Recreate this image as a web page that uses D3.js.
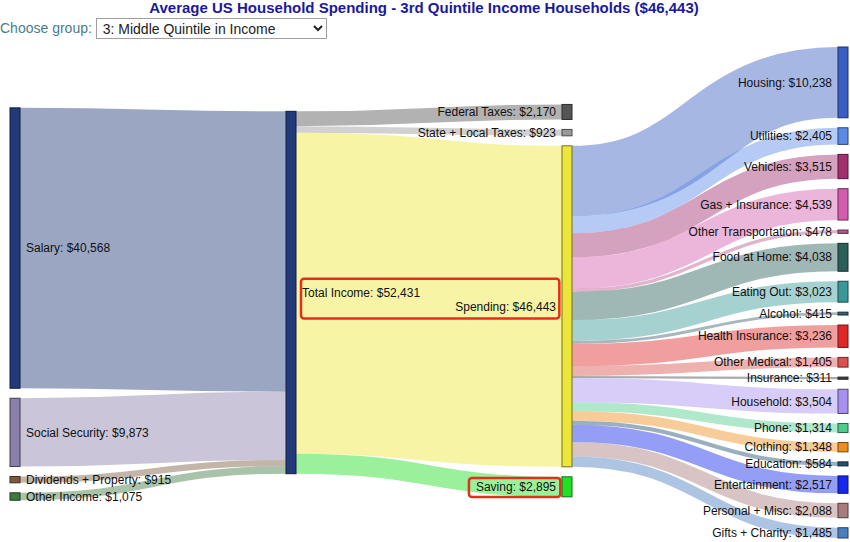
<!DOCTYPE html>
<html><head><meta charset="utf-8">
<script src="https://cdn.jsdelivr.net/npm/d3@7"></script>
<style>
body{margin:0;background:#fff;font-family:"Liberation Sans",Arial,sans-serif;}
#wrap{position:relative;width:850px;height:542px;overflow:hidden;}
#title{position:absolute;left:0;top:-1px;width:848px;text-align:center;font-weight:bold;font-size:15px;line-height:17px;color:#1a1a99;}
#ctl{position:absolute;left:0;top:18px;font-size:14px;line-height:20px;color:#4a7c8c;}
#ctl select{font-family:"Liberation Sans",Arial,sans-serif;font-size:14px;width:231px;height:21px;margin-left:0;border:1px solid #a0a0a0;background:#fff;color:#222;padding:0 2px;vertical-align:top;}
svg{position:absolute;left:0;top:0;}
text{font-family:"Liberation Sans",Arial,sans-serif;font-size:12px;fill:#111;}
</style></head>
<body>
<div id="wrap">
<svg id="chart" width="850" height="542"></svg>
<div id="title">Average US Household Spending - 3rd Quintile Income Households ($46,443)</div>
<div id="ctl">Choose group: <select><option>3: Middle Quintile in Income</option></select></div>
</div>
<script>
// ---- data ----
const incomeNames = ["Salary", "Social Security", "Dividends + Property", "Other Income"];
const incomeValues = [40568, 9873, 915, 1075];
const totalName = "Total Income";
const taxNames = ["Federal Taxes", "State + Local Taxes"];
const taxValues = [2170, 923];
const spendingName = "Spending";
const savingName = "Saving";
const savingValue = 2895;
const spendingNames = ["Housing", "Utilities", "Vehicles", "Gas + Insurance", "Other Transportation",
  "Food at Home", "Eating Out", "Alcohol", "Health Insurance", "Other Medical", "Insurance",
  "Household", "Phone", "Clothing", "Education", "Entertainment", "Personal + Misc", "Gifts + Charity"];
const spendingValues = [10238, 2405, 3515, 4539, 478, 4038, 3023, 415, 3236, 1405, 311,
  3504, 1314, 1348, 584, 2517, 2088, 1485];

// ---- styles ----
const incomeColors = ["#22397a", "#8a7fab", "#7a5a3e", "#3f7a40"];
const totalColor = "#22397a";
const taxColors = ["#555555", "#9a9a9a"];
const spendingColor = "#ede63a";
const savingColor = "#22e022";
const spendingColors = ["#3a5fc4", "#5a8ae6", "#a0306e", "#d45cae", "#b8588e",
  "#2a5f5a", "#3a9898", "#3c5f6e", "#e02828", "#dc5050", "#444444",
  "#a98ff0", "#4fcc8c", "#ee8e1c", "#22506e", "#1428ee", "#a87c7c", "#4a7fc0"];

const fmt = d3.format("$,.0f");
const W = 838, H = 491, marginLeft = 10, marginTop = 47, nodeWidth = 10, pad = 10, iterations = 6;

// ---- graph ----
const nodes = [], links = [];
incomeNames.forEach((n, i) => nodes.push({name: n, col: 0, color: incomeColors[i]}));
const total = {name: totalName, col: 1, color: totalColor}; nodes.push(total);
const taxNodes = taxNames.map((n, i) => ({name: n, col: 2, color: taxColors[i]}));
taxNodes.forEach(n => nodes.push(n));
const spend = {name: spendingName, col: 2, color: spendingColor}; nodes.push(spend);
const save = {name: savingName, col: 2, color: savingColor}; nodes.push(save);
const catNodes = spendingNames.map((n, i) => ({name: n, col: 3, color: spendingColors[i]}));
catNodes.forEach(n => nodes.push(n));

incomeValues.forEach((v, i) => links.push({source: nodes[i], target: total, value: v, color: incomeColors[i]}));
taxValues.forEach((v, i) => links.push({source: total, target: taxNodes[i], value: v, color: taxColors[i]}));
links.push({source: total, target: spend, value: d3.sum(spendingValues), color: spendingColor});
links.push({source: total, target: save, value: savingValue, color: savingColor});
spendingValues.forEach((v, i) => links.push({source: spend, target: catNodes[i], value: v, color: spendingColors[i]}));

// ---- sankey layout (d3-sankey style, left aligned, input node order kept) ----
nodes.forEach((n, i) => { n.index = i; n.sourceLinks = []; n.targetLinks = []; });
links.forEach((l, i) => { l.index = i; l.source.sourceLinks.push(l); l.target.targetLinks.push(l); });
nodes.forEach(n => n.value = Math.max(d3.sum(n.sourceLinks, l => l.value), d3.sum(n.targetLinks, l => l.value)));
const cols = d3.groups(nodes, n => n.col).sort((a, b) => a[0] - b[0]).map(d => d[1]);
const xs = d3.scalePoint().domain(d3.range(cols.length)).range([0, W - nodeWidth]);
nodes.forEach(n => { n.x0 = xs(n.col); n.x1 = n.x0 + nodeWidth; });
const py = Math.min(pad, H / (d3.max(cols, c => c.length) - 1));
const ky = d3.min(cols, c => (H - (c.length - 1) * py) / d3.sum(c, n => n.value));
const hs = d3.scaleLinear().domain([0, 1]).range([0, ky]);
const byBreadth = (a, b) => a.y0 - b.y0;
const byTarget = (a, b) => byBreadth(a.target, b.target) || a.index - b.index;
const bySource = (a, b) => byBreadth(a.source, b.source) || a.index - b.index;

for (const c of cols) {
  let y = 0;
  for (const n of c) {
    n.y0 = y; n.y1 = y + hs(n.value); y = n.y1 + py;
    for (const l of n.sourceLinks) l.width = hs(l.value);
  }
  y = (H - y + py) / (c.length + 1);
  c.forEach((n, i) => { n.y0 += y * (i + 1); n.y1 += y * (i + 1); });
  for (const n of c) { n.sourceLinks.sort(byTarget); n.targetLinks.sort(bySource); }
}
function reorderNodeLinks(n) {
  for (const {source} of n.targetLinks) source.sourceLinks.sort(byTarget);
  for (const {target} of n.sourceLinks) target.targetLinks.sort(bySource);
}
function targetTop(source, target) {
  let y = source.y0 - (source.sourceLinks.length - 1) * py / 2;
  for (const {target: n, width} of source.sourceLinks) { if (n === target) break; y += width + py; }
  for (const {source: n, width} of target.targetLinks) { if (n === source) break; y -= width; }
  return y;
}
function sourceTop(source, target) {
  let y = target.y0 - (target.targetLinks.length - 1) * py / 2;
  for (const {source: n, width} of target.targetLinks) { if (n === source) break; y += width + py; }
  for (const {target: n, width} of source.sourceLinks) { if (n === target) break; y -= width; }
  return y;
}
function topToBottom(c, y, i, a) {
  for (; i < c.length; ++i) { const n = c[i]; const dy = (y - n.y0) * a; if (dy > 1e-6) { n.y0 += dy; n.y1 += dy; } y = n.y1 + py; }
}
function bottomToTop(c, y, i, a) {
  for (; i >= 0; --i) { const n = c[i]; const dy = (n.y1 - y) * a; if (dy > 1e-6) { n.y0 -= dy; n.y1 -= dy; } y = n.y0 - py; }
}
function resolve(c, a) {
  const i = c.length >> 1, s = c[i];
  bottomToTop(c, s.y0 - py, i - 1, a);
  topToBottom(c, s.y1 + py, i + 1, a);
  bottomToTop(c, H, c.length - 1, a);
  topToBottom(c, 0, 0, a);
}
function relaxLR(alpha, beta) {
  for (let i = 1; i < cols.length; ++i) {
    for (const t of cols[i]) {
      let y = 0, w = 0;
      for (const l of t.targetLinks) { const v = l.value * (t.col - l.source.col); y += targetTop(l.source, t) * v; w += v; }
      if (!(w > 0)) continue;
      const dy = (y / w - t.y0) * alpha; t.y0 += dy; t.y1 += dy; reorderNodeLinks(t);
    }
    resolve(cols[i], beta);
  }
}
function relaxRL(alpha, beta) {
  for (let i = cols.length - 2; i >= 0; --i) {
    for (const s of cols[i]) {
      let y = 0, w = 0;
      for (const l of s.sourceLinks) { const v = l.value * (l.target.col - s.col); y += sourceTop(s, l.target) * v; w += v; }
      if (!(w > 0)) continue;
      const dy = (y / w - s.y0) * alpha; s.y0 += dy; s.y1 += dy; reorderNodeLinks(s);
    }
    resolve(cols[i], beta);
  }
}
for (let i = 0; i < iterations; ++i) {
  const alpha = Math.pow(0.99, i), beta = Math.max(1 - alpha, (i + 1) / iterations);
  relaxRL(alpha, beta); relaxLR(alpha, beta);
}
// center the hub node (Total Income) vertically, moving the first three columns together
const block = cols.slice(0, 3).flat();
const shift = (H - (total.y1 - total.y0)) / 2 - total.y0;
block.forEach(n => { n.y0 += shift; n.y1 += shift; });

for (const n of nodes) {
  let a = n.y0, b = n.y0;
  for (const l of n.sourceLinks) { l.y0 = a + l.width / 2; a += l.width; }
  for (const l of n.targetLinks) { l.y1 = b + l.width / 2; b += l.width; }
}

function linkPath(d) {
  const x0 = d.source.x1, x1 = d.target.x0, xm = (x0 + x1) / 2;
  return `M${x0},${d.y0}C${xm},${d.y0} ${xm},${d.y1} ${x1},${d.y1}`;
}

// ---- draw ----
const svg = d3.select("#chart");
const g = svg.append("g").attr("transform", `translate(${marginLeft},${marginTop})`);
g.append("g").selectAll("path").data(links).join("path")
  .attr("d", linkPath).attr("fill", "none")
  .attr("stroke", d => d.color).attr("stroke-opacity", 0.45)
  .attr("stroke-width", d => Math.max(1, d.width));

const node = g.append("g").selectAll("g").data(nodes).join("g")
  .attr("transform", d => `translate(${d.x0},${d.y0})`);
node.append("rect").attr("width", d => d.x1 - d.x0).attr("height", d => Math.max(1, d.y1 - d.y0))
  .attr("fill", d => d.color).attr("stroke", d => d3.rgb(d.color).darker(2)).attr("stroke-width", 1);
node.append("text")
  .attr("x", d => d.col < 2 ? nodeWidth + 6 : -6)
  .attr("y", d => (d.y1 - d.y0) / 2).attr("dy", ".35em")
  .attr("text-anchor", d => d.col < 2 ? "start" : "end")
  .attr("class", d => d === total ? "lbl-total" : d === spend ? "lbl-spend" : d === save ? "lbl-save" : null)
  .text(d => `${d.name}: ${fmt(d.value)}`);

// red annotation boxes
function bboxOf(sel) {
  const b = sel.node().getBBox(), t = sel.node().parentNode.transform.baseVal.consolidate().matrix;
  return {x: b.x + t.e, y: b.y + t.f, w: b.width, h: b.height};
}
const bt = bboxOf(g.select(".lbl-total")), bs = bboxOf(g.select(".lbl-spend")), bv = bboxOf(g.select(".lbl-save"));
const bx1 = Math.min(bt.x, bs.x) - 1, bx2 = Math.max(bt.x + bt.w, bs.x + bs.w) + 3;
const by1 = Math.min(bt.y, bs.y) - 7, by2 = Math.max(bt.y + bt.h, bs.y + bs.h) + 5;
g.append("rect").attr("x", bx1).attr("y", by1).attr("width", bx2 - bx1).attr("height", by2 - by1)
  .attr("rx", 3).attr("fill", "none").attr("stroke", "#e0301e").attr("stroke-width", 2.5);
g.append("rect").attr("x", bv.x - 7).attr("y", bv.y - 2).attr("width", bv.w + 11).attr("height", bv.h + 5)
  .attr("rx", 3).attr("fill", "none").attr("stroke", "#e0301e").attr("stroke-width", 2.5);
</script>
</body></html>
